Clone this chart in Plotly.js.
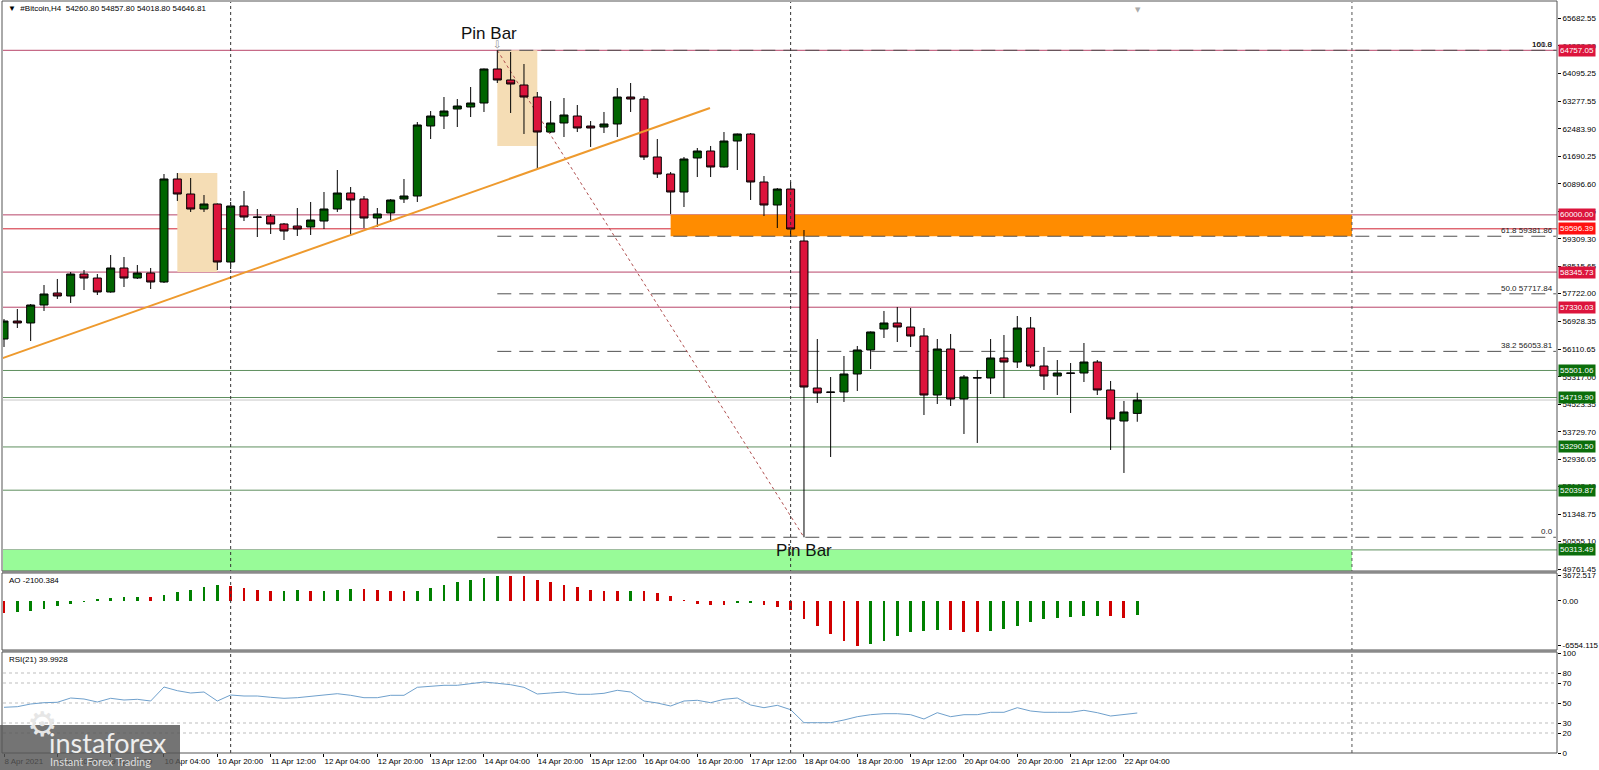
<!DOCTYPE html>
<html><head><meta charset="utf-8">
<script src="https://cdn.plot.ly/plotly-3.0.1.min.js"></script>
<style>html,body{margin:0;padding:0;background:#fff}#chart{width:1599px;height:770px}</style>
</head><body><div id="chart"></div>
<script>
// ---------- DATA ----------
const symbol = "#Bitcoin,H4";
const openP  = [56411,56931,56874,57394,57741,57654,58290,58174,57770,58464,58174,58319,58059,61037,60603,60169,60314,58637,60256,59938,59967,59736,59678,59649,59822,60169,60632,60458,59909,60054,60458,60545,62569,62858,63060,63118,63234,64217,63899,63754,63407,62395,62656,62858,62569,62540,62627,63407,63349,61673,61181,60661,61644,61846,61384,62135,62338,60950,60285,60747,59244,54994,54879,54879,55399,56094,56700,56874,56758,56498,54792,56122,54676,55284,55284,55862,55746,56729,55630,55341,55428,55428,55746,54937,54040,54260.80];
const highP  = [56989,57278,57423,57972,58146,58348,58406,58290,58839,58782,58550,58464,61181,61210,61066,60574,60330,60372,60690,60169,60025,59765,60198,60372,60661,61297,60805,60545,60198,60458,61037,62684,63002,63407,63349,63696,64230,64757.05,64708,64361,63552,63292,63378,63176,62713,62974,63667,63812,63436,62193,61239,61673,61933,61991,62395,62350,62366,61123,60776,60950,59562,56411,55312,55920,56209,56630,57221,57336,57307,56729,56411,56556,55370,55515,56411,56527,57076,57047,56180,55804,55717,56295,55804,55197,54619,54857.80];
const lowP   = [56180,56729,56353,57221,57568,57452,57828,57683,57750,57914,58146,57857,58030,60401,60083,60083,58406,58435,59822,59360,59447,59273,59389,59418,59591,60083,59418,59620,59649,59794,60343,60372,62193,62482,62540,62829,62974,63812,62945,62338,61326,62366,62251,62395,61962,62366,62251,62974,61586,61066,60025,60227,61094,61094,61370,61297,60430,59967,59620,59360,50678.63,54561,53000,54590,54908,55544,56440,56324,56180,54214,54532,54474,53665,53405,54821,54705,55573,55573,54937,54792,54272,55168,54792,53203,52538,54018.80];
const closeP = [56931,56874,57394,57712,57654,58290,58174,57770,58464,58174,58319,58059,61037,60603,60169,60314,58637,60256,59938,59930,59736,59533,59591,59851,60169,60632,60430,59909,60025,60430,60545,62598,62858,63002,63147,63234,64217,63899,63783,63407,62395,62656,62887,62511,62511,62627,63407,63349,61673,61181,60661,61615,61846,61384,62135,62338,60950,60285,60747,59591,55023,54850,54870,55399,56094,56614,56874,56758,56498,54792,56122,54676,55312,55290,55862,55746,56729,55630,55341,55428,55420,55746,54937,54098,54301,54646.81];

const aoValues = [-1752,-1703,-1557,-1168,-730,-438,-195,195,390,535,550,487,779,1217,1606,1995,2239,2141,1849,1606,1460,1480,1606,1460,1480,1606,1703,1690,1606,1460,1363,1460,1849,2336,2677,3066,3309,3672.517,3650,3600,3066,2677,2336,1947,1606,1460,1363,1460,1363,1119,633,100,-438,-681,-700,-389,-380,-681,-925,-1314,-2628,-3747,-4915,-5937,-6554.115,-6278,-5840,-5110,-4623,-4380,-4283,-4300,-4526,-4623,-4380,-4137,-3747,-3163,-2677,-2530,-2385,-2287,-2270,-2300,-2530,-2100.384];
const rsiValues = [45.7,46.3,49,50.3,50.7,55,54,51,54.7,53,53.7,52,66,62.3,60,61,52,58,57,57,55.7,54.7,55.3,56.3,58,59.3,57.7,55.3,55.3,57.7,57.7,65.7,66.7,67.7,67.7,69,71,69.7,68.3,65.7,59,60,61,58.7,58.7,59.7,62.7,61,52,50,47,52,52.7,50.3,53.7,55,48,45.3,47.7,43.3,30.3,30.3,30.3,33,36.3,38.3,39.3,39.3,38.3,34,40.3,36.3,38.3,38.3,40.7,40.7,45.3,42,40.7,40.7,40.7,42.7,40.3,37,38.7,39.9928];

const timeTickBars   = [0,4,8,12,16,20,24,28,32,36,40,44,48,52,56,60,64,68,72,76,80,84];
const timeTickLabels = ["8 Apr 2021","8 Apr 20:00","9 Apr 12:00","10 Apr 04:00","10 Apr 20:00","11 Apr 12:00","12 Apr 04:00","12 Apr 20:00","13 Apr 12:00","14 Apr 04:00","14 Apr 20:00","15 Apr 12:00","16 Apr 04:00","16 Apr 20:00","17 Apr 12:00","18 Apr 04:00","18 Apr 20:00","19 Apr 12:00","20 Apr 04:00","20 Apr 20:00","21 Apr 12:00","22 Apr 04:00"];

const priceTicks = [65682.55,64888.90,64095.25,63277.55,62483.90,61690.25,60896.60,60102.95,59309.30,58515.65,57722.00,56928.35,56110.65,55317.00,54523.35,53729.70,52936.05,52142.40,51348.75,50555.10,49761.45];
const aoTicks = [3672.517,0,-6554.115];
const aoTickLabels = ["3672.517","0.00","-6554.115"];
const rsiTicks = [100,80,70,50,30,20,0];
const rsiLevels = [80,70,50,30,20];

const resistanceLevels = [64757.05,60000.00,59596.39,58345.73,57330.03];
const supportLevels    = [55501.06,54719.90,53290.50,52039.87,50313.49];
const fibLevels = [64757.05,59381.86,57717.84,56053.81,50678.63];
const fibNames  = ["100.0","61.8","50.0","38.2","0.0"];
const fibStartBar = 37, fibEndBar = 60;

const trendBars = [-0.3,52.95];
const trendPrices = [55833,63089];

const zoneOrange = {bars:[50,101.1], prices:[59381.86,60000.00]};
const zoneGreen  = {bars:[-1,101.1], prices:[49600,50313.49]};
const pinBoxes = [{bars:[13,16], prices:[58345.73,61210]},{bars:[37,40], prices:[61991,64757.05]}];
const separatorBars = [17,59];
const shiftBar = 101.1;
const rsiPeriod = 21;

// ---------- LAYOUT HELPERS ----------
const W = 1599, H = 770;
const px = p => p / W;
const py = p => 1 - p / H;
const n = closeP.length;
const bars = Array.from({length:n}, (_, i) => i);
const FONT = "Liberation Sans, Arial, sans-serif";

const aoColors = aoValues.map((v, i) => (i > 0 && v > aoValues[i-1]) ? "#008000" : "#D00000");

const traces = [
  {type:"candlestick", x:bars, open:openP, high:highP, low:lowP, close:closeP,
   xaxis:"x", yaxis:"y", hoverinfo:"skip", whiskerwidth:0,
   increasing:{line:{color:"#000", width:1}, fillcolor:"#006400"},
   decreasing:{line:{color:"#000", width:1}, fillcolor:"#DC143C"}},
  {type:"bar", x:bars, y:aoValues, xaxis:"x", yaxis:"y2", width:0.22,
   marker:{color:aoColors, line:{width:0}}, hoverinfo:"skip"},
  {type:"scatter", mode:"lines", x:bars, y:rsiValues, xaxis:"x", yaxis:"y3",
   line:{color:"#6FA0CC", width:1}, hoverinfo:"skip"}
];

const shapes = [];
shapes.push({type:"rect", xref:"x", yref:"y", x0:zoneGreen.bars[0], x1:zoneGreen.bars[1], y0:zoneGreen.prices[0], y1:zoneGreen.prices[1], fillcolor:"#98FB98", line:{width:0}, layer:"below"});
shapes.push({type:"rect", xref:"x", yref:"y", x0:zoneOrange.bars[0], x1:zoneOrange.bars[1], y0:zoneOrange.prices[0], y1:zoneOrange.prices[1], fillcolor:"#FF8C00", line:{width:0}, layer:"below"});
pinBoxes.forEach(b => shapes.push({type:"rect", xref:"x", yref:"y", x0:b.bars[0], x1:b.bars[1], y0:b.prices[0], y1:b.prices[1], fillcolor:"#F5DDB5", line:{width:0}, layer:"below"}));
resistanceLevels.forEach(v => shapes.push({type:"line", xref:"paper", yref:"y", x0:px(3), x1:px(1557), y0:v, y1:v, line:{color: v===59596.39 ? "#D02030" : "#B8456A", width:1}, layer:"below"}));
supportLevels.forEach(v => shapes.push({type:"line", xref:"paper", yref:"y", x0:px(3), x1:px(1557), y0:v, y1:v, line:{color:"#5F8F5F", width:1}, layer:"below"}));
shapes.push({type:"line", xref:"paper", yref:"y", x0:px(3), x1:px(1557), y0:closeP[n-1], y1:closeP[n-1], line:{color:"#C8C8C8", width:1}, layer:"below"});
fibLevels.forEach(v => shapes.push({type:"line", xref:"x", yref:"y", x0:fibStartBar, x1:116.4, y0:v, y1:v, line:{color:"#505050", width:1, dash:"14px,8px"}, layer:"below"}));
shapes.push({type:"line", xref:"x", yref:"y", x0:fibStartBar, x1:fibEndBar, y0:fibLevels[0], y1:fibLevels[4], line:{color:"#B05050", width:1, dash:"dot"}, layer:"below"});
shapes.push({type:"line", xref:"x", yref:"y", x0:trendBars[0], x1:trendBars[1], y0:trendPrices[0], y1:trendPrices[1], line:{color:"#EE9A2E", width:2}});
rsiLevels.forEach(v => shapes.push({type:"line", xref:"paper", yref:"y3", x0:px(3), x1:px(1557), y0:v, y1:v, line:{color:"#BDBDBD", width:1, dash:"dot"}, layer:"below"}));
separatorBars.forEach(b => shapes.push({type:"line", xref:"x", yref:"paper", x0:b, x1:b, y0:py(753), y1:py(2), line:{color:"#333", width:1, dash:"dot"}}));
shapes.push({type:"line", xref:"x", yref:"paper", x0:shiftBar, x1:shiftBar, y0:py(753), y1:py(2), line:{color:"#555", width:1, dash:"3px,3px"}});
[[1,571],[573,650],[652,753]].forEach(r => shapes.push({type:"rect", xref:"paper", yref:"paper", x0:px(2), x1:px(1557), y0:py(r[1]), y1:py(r[0]), line:{color:"#555", width:1}, fillcolor:"rgba(0,0,0,0)"}));
shapes.push({type:"line", xref:"paper", yref:"paper", x0:px(2), x1:px(1557), y0:py(572), y1:py(572), line:{color:"#8A8A8A", width:2}});
shapes.push({type:"line", xref:"paper", yref:"paper", x0:px(2), x1:px(1557), y0:py(651), y1:py(651), line:{color:"#8A8A8A", width:2}});
shapes.push({type:"rect", xref:"paper", yref:"paper", x0:0, x1:px(180), y0:0, y1:py(725), fillcolor:"rgba(85,85,85,0.82)", line:{width:0}, layer:"above"});

const annotations = [];
const fmt = v => v.toFixed(2);
annotations.push({xref:"paper", yref:"paper", x:px(6), y:py(8), xanchor:"left", yanchor:"middle", showarrow:false,
  text:"▼  " + symbol + "  " + [openP[n-1], highP[n-1], lowP[n-1], closeP[n-1]].map(fmt).join(" "), font:{family:FONT, size:8, color:"#000"}});
annotations.push({xref:"paper", yref:"paper", x:px(7), y:py(580), xanchor:"left", yanchor:"middle", showarrow:false,
  text:"AO " + aoValues[n-1].toFixed(3), font:{family:FONT, size:8, color:"#000"}});
annotations.push({xref:"paper", yref:"paper", x:px(7), y:py(659), xanchor:"left", yanchor:"middle", showarrow:false,
  text:"RSI(" + rsiPeriod + ") " + rsiValues[n-1].toFixed(4), font:{family:FONT, size:8, color:"#000"}});
resistanceLevels.forEach(v => annotations.push({xref:"paper", yref:"y", x:px(1558), y:v, xanchor:"left", yanchor:"middle", showarrow:false,
  text:fmt(v), bgcolor: v===59596.39 ? "#FF1010" : "#DC143C", borderpad:1, font:{family:FONT, size:8, color:"#fff"}}));
supportLevels.forEach(v => annotations.push({xref:"paper", yref:"y", x:px(1558), y:v, xanchor:"left", yanchor:"middle", showarrow:false,
  text:fmt(v), bgcolor:"#0B6E0B", borderpad:1, font:{family:FONT, size:8, color:"#fff"}}));
fibLevels.forEach((v, i) => {
  const t = i === 0 ? "161.8" : (i === 4 ? fibNames[i] : fibNames[i] + " " + fmt(v));
  annotations.push({xref:"paper", yref:"y", x:px(1555), y:v, xanchor:"right", yanchor:"bottom", showarrow:false, yshift:-1,
    text:t, font:{family:FONT, size:8, color:"#222"}});
  if (i === 0) annotations.push({xref:"paper", yref:"y", x:px(1555), y:v, xanchor:"right", yanchor:"bottom", showarrow:false, yshift:-1,
    text:fibNames[0], font:{family:FONT, size:8, color:"#222"}});
});
annotations.push({xref:"x", yref:"y", x:fibStartBar - 0.6, y:highP[fibStartBar], yshift:17, showarrow:false, text:"Pin Bar", font:{family:FONT, size:17, color:"#111"}});
annotations.push({xref:"x", yref:"y", x:fibStartBar, y:highP[fibStartBar], yshift:6, showarrow:false, text:"⇩", font:{family:"DejaVu Sans", size:10, color:"#888"}});
annotations.push({xref:"x", yref:"y", x:fibEndBar, y:lowP[fibEndBar], yshift:-13, showarrow:false, text:"Pin Bar", font:{family:FONT, size:17, color:"#111"}});
annotations.push({xref:"paper", yref:"paper", x:px(1143), y:py(4), showarrow:false, text:"▼", font:{family:"DejaVu Sans", size:7, color:"#aaa"}});
annotations.push({xref:"paper", yref:"paper", x:px(25), y:py(746), showarrow:false, text:"⚙", font:{family:"DejaVu Sans", size:34, color:"#e6e6e6"}});
annotations.push({xref:"paper", yref:"paper", x:px(47), y:py(742), xanchor:"left", yanchor:"middle", showarrow:false, text:"instaforex", font:{family:"Lato, Open Sans, sans-serif", size:27, color:"#eeeeee"}});
annotations.push({xref:"paper", yref:"paper", x:px(48), y:py(761), xanchor:"left", yanchor:"middle", showarrow:false, text:"Instant Forex Trading", font:{family:"Lato, Open Sans, sans-serif", size:11, color:"#dddddd"}});

const tickFont = {family:FONT, size:8, color:"#000"};
const layout = {
  width:W, height:H, margin:{l:0, r:0, t:0, b:0},
  paper_bgcolor:"#fff", plot_bgcolor:"#fff", showlegend:false,
  boxgap:0.14, boxgroupgap:0.3, bargap:0,
  xaxis:{domain:[px(3), px(1557)], range:[-0.075, 116.48], anchor:"y3", tickmode:"array", tickvals:timeTickBars, ticktext:timeTickLabels,
    ticklabelposition:"outside right", tickangle:0, ticks:"outside", ticklen:3, tickcolor:"#000", showgrid:false, zeroline:false, showline:false,
    tickfont:tickFont, rangeslider:{visible:false}, fixedrange:true},
  yaxis:{domain:[py(571), py(2)], range:[49703.9, 66153.8], side:"right", anchor:"x", tickmode:"array", tickvals:priceTicks, ticktext:priceTicks.map(fmt),
    ticks:"outside", ticklen:3, tickcolor:"#000", showgrid:false, zeroline:false, showline:false, tickfont:tickFont, fixedrange:true},
  yaxis2:{domain:[py(650), py(573)], range:[-7198, 4044], side:"right", anchor:"x", tickmode:"array", tickvals:aoTicks, ticktext:aoTickLabels,
    ticks:"outside", ticklen:3, tickcolor:"#000", showgrid:false, zeroline:false, showline:false, tickfont:tickFont, fixedrange:true},
  yaxis3:{domain:[py(753), py(653)], range:[0, 100], side:"right", anchor:"x", tickmode:"array", tickvals:rsiTicks, ticktext:rsiTicks.map(String),
    ticks:"outside", ticklen:3, tickcolor:"#000", showgrid:false, zeroline:false, showline:false, tickfont:tickFont, fixedrange:true},
  shapes:shapes, annotations:annotations
};
Plotly.newPlot("chart", traces, layout, {staticPlot:true, displayModeBar:false});
</script>
</body></html>
